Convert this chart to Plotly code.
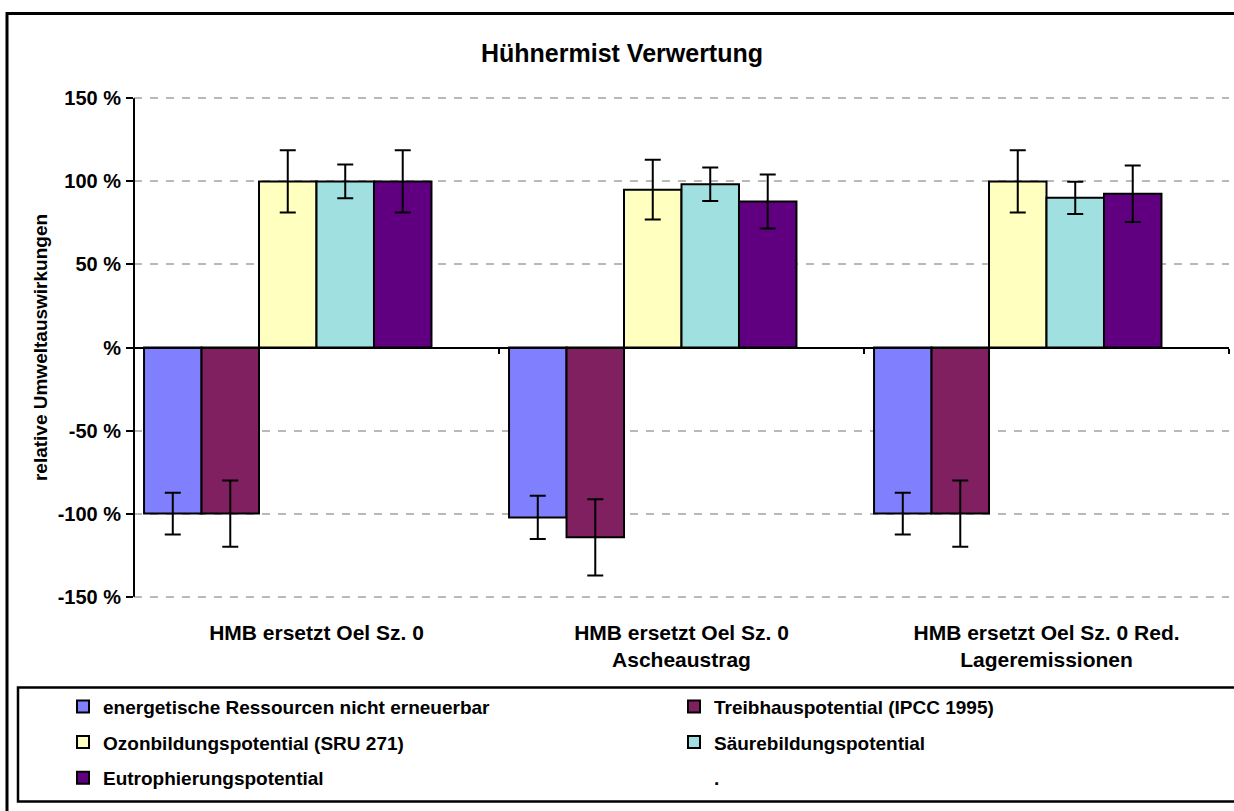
import plotly.graph_objects as go

# Daten
kategorien = [
    "HMB ersetzt Oel Sz. 0",
    "HMB ersetzt Oel Sz. 0<br>Ascheaustrag",
    "HMB ersetzt Oel Sz. 0 Red.<br>Lageremissionen",
]
serien = [
    "energetische Ressourcen nicht erneuerbar",
    "Treibhauspotential (IPCC 1995)",
    "Ozonbildungspotential (SRU 271)",
    "Säurebildungspotential",
    "Eutrophierungspotential",
    ".",
]
energie = [-100, -102.3, -100]
treibhaus = [-100, -114.3, -100]
ozon = [100, 95, 100]
saeure = [100, 98.3, 90.1]
eutroph = [100, 87.9, 92.5]
punkt = [None, None, None]

fehler_energie = [12.5, 13, 12.6]
fehler_treibhaus = [20, 23, 20]
fehler_ozon = [18.7, 18, 18.7]
fehler_saeure = [10.2, 10.1, 9.7]
fehler_eutroph = [18.7, 16.3, 17]

tick_werte = [150, 100, 50, 0, -50, -100, -150]
tick_texte = ["150 %", "100 %", "50 %", "%", "-50 %", "-100 %", "-150 %"]

farben = ["#8080FF", "#802060", "#FFFFC0", "#A0E0E0", "#600080", "rgba(0,0,0,0)"]
werte = [energie, treibhaus, ozon, saeure, eutroph, punkt]
fehler = [fehler_energie, fehler_treibhaus, fehler_ozon, fehler_saeure, fehler_eutroph, None]
legenden = ["legend", "legend2", "legend", "legend2", "legend", "legend2"]

FONT = "Arial, Liberation Sans, sans-serif"
W, H = 1234, 811
YMAX = 152  # etwas Luft, damit die Gitterlinien bei +-150 sichtbar bleiben
Y150, YM150 = 98, 597  # Pixellage von 150 % und -150 %
PH = (YM150 - Y150) * 2 * YMAX / 300
L = 134
R = W - 1229
T = Y150 - (YMAX - 150) * PH / (2 * YMAX)
B = H - (T + PH)
PW = W - L - R


def px_x(x):
    # Bildschirm-Pixel -> Paper-Koordinate
    return (x - L) / PW


def px_y(y):
    return (T + PH - y) / PH


fig = go.Figure()

for i, name in enumerate(serien):
    leer = fehler[i] is None
    fig.add_trace(go.Bar(
        x=kategorien,
        y=werte[i],
        name=name,
        legend=legenden[i],
        legendgroup=str(i),
        marker=dict(color=farben[i],
                    line=dict(color="black" if not leer else "rgba(0,0,0,0)", width=2)),
        error_y=dict(type="data", array=fehler[i], visible=not leer,
                     color="black", thickness=2, width=8),
    ))

# unsichtbare Hilfsspur fuer die Nulllinie mit Teilstrichen
fig.add_trace(go.Scatter(
    x=kategorien, y=[0, 0, 0], xaxis="x2", mode="markers",
    marker=dict(opacity=0), showlegend=False, hoverinfo="skip",
))

legend_font = dict(family=FONT, size=19, color="black", weight="bold")

fig.update_layout(
    width=W, height=H,
    margin=dict(l=L, r=R, t=T, b=B),
    paper_bgcolor="white", plot_bgcolor="white",
    barmode="group", bargap=0.055, bargroupgap=0,
    title=dict(text="Hühnermist Verwertung", x=622 / W, xref="container",
               xanchor="center", y=1 - 53 / H, yref="container", yanchor="middle",
               font=dict(family=FONT, size=25, color="black", weight="bold")),
    xaxis=dict(type="category", range=[-0.5, 2.5], showline=False, showgrid=False,
               ticks="", ticklabelstandoff=18,
               tickfont=dict(family=FONT, size=21, color="black", weight="bold")),
    xaxis2=dict(type="category", range=[-0.5, 2.5], overlaying="x", anchor="free",
                position=0.5, side="bottom", showline=True, linecolor="black", linewidth=2,
                ticks="outside", tickson="boundaries", ticklen=5, tickwidth=2,
                tickcolor="black", showticklabels=False, showgrid=False),
    yaxis=dict(range=[-YMAX, YMAX], tickvals=tick_werte, ticktext=tick_texte,
               showline=False, zeroline=False,
               ticks="outside", ticklen=7, tickwidth=2, tickcolor="black",
               ticklabelstandoff=1,
               showgrid=True, gridcolor="#b8b8b8", gridwidth=2, griddash="8px,8px",
               tickfont=dict(family=FONT, size=20, color="black", weight="bold"),
               title=dict(text="relative Umweltauswirkungen", standoff=4,
                          font=dict(family=FONT, size=19, color="black", weight="bold"))),
    legend=dict(x=px_x(63), y=px_y(688), xanchor="left", yanchor="top",
                orientation="v", traceorder="grouped", tracegroupgap=8,
                bgcolor="rgba(0,0,0,0)", borderwidth=0, font=legend_font),
    legend2=dict(x=px_x(674), y=px_y(688), xanchor="left", yanchor="top",
                 orientation="v", traceorder="grouped", tracegroupgap=8,
                 bgcolor="rgba(0,0,0,0)", borderwidth=0, font=legend_font),
    shapes=[
        # Rahmen des Diagrammbereichs
        dict(type="rect", xref="paper", yref="paper", layer="below",
             x0=px_x(7), x1=px_x(1260), y0=px_y(13), y1=px_y(840),
             line=dict(color="black", width=3)),
        # Legendenrahmen
        dict(type="rect", xref="paper", yref="paper", layer="below",
             x0=px_x(18), x1=px_x(1260), y0=px_y(688), y1=px_y(802),
             line=dict(color="black", width=2.5)),
        # y-Achsenlinie von -150 % bis 150 %
        dict(type="line", xref="paper", yref="y", layer="above",
             x0=0, x1=0, y0=tick_werte[-1], y1=tick_werte[0],
             line=dict(color="black", width=2)),
    ],
    showlegend=True,
)

# Seitenrand des Browsers entfernen, damit die Grafik genau das Fenster fuellt
fig.write_html("out.html", config={"displayModeBar": False},
               post_script="document.body.style.margin='0px';")
